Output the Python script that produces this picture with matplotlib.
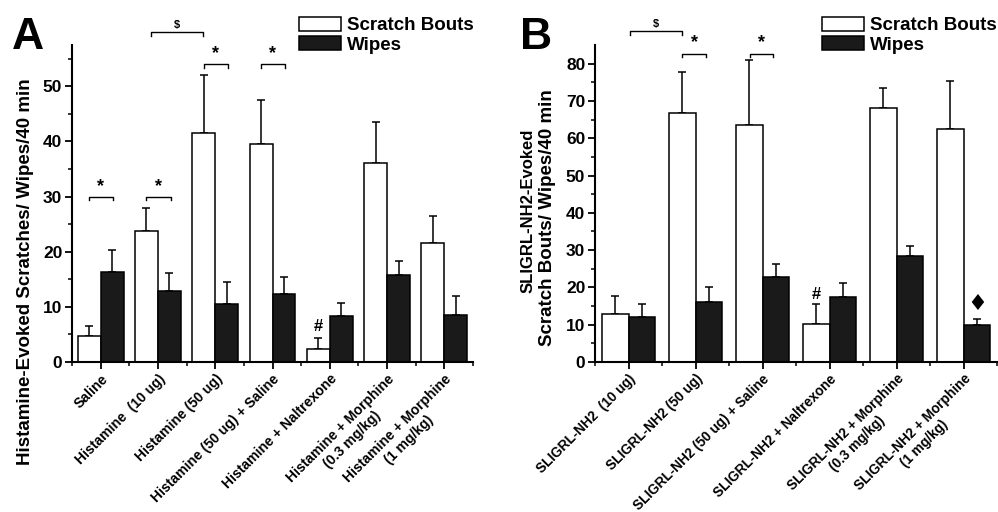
import numpy as np
import matplotlib
matplotlib.use("Agg")
import matplotlib.pyplot as plt

plt.rcParams['font.family'] = ['Liberation Sans', 'DejaVu Sans']
plt.rcParams['font.weight'] = 'bold'

# データ (パネルA: ヒスタミン)
labels_a = ["Saline", "Histamine  (10 ug)", "Histamine (50 ug)",
            "Histamine (50 ug) + Saline", "Histamine + Naltrexone",
            "Histamine + Morphine\n(0.3 mg/kg)", "Histamine + Morphine\n(1 mg/kg)"]
scratch_a = [4.7, 23.8, 41.5, 39.5, 2.4, 36.1, 21.6]
scratch_a_err = [1.8, 4.1, 10.5, 8.0, 2.0, 7.4, 4.9]
wipes_a = [16.3, 12.8, 10.5, 12.3, 8.3, 15.7, 8.6]
wipes_a_err = [4.0, 3.3, 4.0, 3.1, 2.4, 2.7, 3.3]

# データ (パネルB: SLIGRL-NH2)
labels_b = ["SLIGRL-NH2  (10 ug)", "SLIGRL-NH2 (50 ug)",
            "SLIGRL-NH2 (50 ug) + Saline", "SLIGRL-NH2 + Naltrexone",
            "SLIGRL-NH2 + Morphine\n(0.3 mg/kg)", "SLIGRL-NH2 + Morphine\n(1 mg/kg)"]
scratch_b = [13.0, 66.9, 63.5, 10.2, 68.2, 62.4]
scratch_b_err = [4.7, 10.8, 17.5, 5.4, 5.2, 12.9]
wipes_b = [12.1, 16.2, 22.9, 17.5, 28.3, 9.9]
wipes_b_err = [3.5, 3.8, 3.3, 3.7, 2.8, 1.6]

W = 0.4

fig = plt.figure(figsize=(9.98, 5.12), dpi=100)


def draw_panel(ax, labels, scratch, s_err, wipes, w_err, ymax, ystep, xfs):
    n = len(labels)
    x = np.arange(n)
    ax.bar(x - W / 2, scratch, W, color='white', edgecolor='black', linewidth=1.1,
           label='Scratch Bouts', zorder=2)
    ax.bar(x + W / 2, wipes, W, color='#1a1a1a', edgecolor='black', linewidth=1.1,
           label='Wipes', zorder=2)
    ax.errorbar(x - W / 2, scratch, yerr=[np.zeros(n), s_err], fmt='none',
                ecolor='black', elinewidth=1.1, capsize=3, capthick=1.1, zorder=1)
    ax.errorbar(x + W / 2, wipes, yerr=[np.zeros(n), w_err], fmt='none',
                ecolor='black', elinewidth=1.1, capsize=3, capthick=1.1, zorder=1)
    ax.set_xlim(-0.5, n - 0.5)
    ax.set_ylim(0, ymax)
    ax.set_yticks(np.arange(0, ymax, ystep))
    ax.set_yticks(np.arange(0, ymax, ystep / 2), minor=True)
    ax.set_xticks(x)
    ax.set_xticks(np.arange(n + 1) - 0.5, minor=True)
    ax.set_xticklabels(labels, rotation=45, ha='right', rotation_mode='anchor',
                       fontsize=xfs, fontweight='bold', multialignment='center')
    for lab in ax.get_yticklabels():
        lab.set_fontsize(12.5)
        lab.set_fontweight('bold')
    ax.tick_params(axis='both', which='major', direction='out', length=5, width=1.3, pad=2)
    ax.tick_params(axis='both', which='minor', direction='out', length=3, width=1.1)
    ax.spines['top'].set_visible(False)
    ax.spines['right'].set_visible(False)
    ax.spines['left'].set_linewidth(1.5)
    ax.spines['bottom'].set_linewidth(1.5)


def bracket(ax, x0, x1, y, text, dy, fs):
    ax.plot([x0, x0, x1, x1], [y - dy, y, y, y - dy], color='black', lw=1.0,
            clip_on=False)
    ax.text((x0 + x1) / 2, y + dy * 0.6, text, ha='center', va='bottom',
            fontsize=fs, fontweight='bold', clip_on=False)


# パネルA
ax1 = fig.add_axes([72 / 998, 1 - 362 / 512, 401 / 998, 317 / 512])
draw_panel(ax1, labels_a, scratch_a, scratch_a_err, wipes_a, wipes_a_err, 57.5, 10, 10.1)
bracket(ax1, -0.2, 0.21, 30, '*', 0.6, 13)
bracket(ax1, 0.8, 1.22, 30, '*', 0.6, 13)
bracket(ax1, 1.8, 2.22, 54, '*', 0.6, 13)
bracket(ax1, 2.8, 3.21, 54, '*', 0.6, 13)
bracket(ax1, 0.88, 1.78, 59.8, '$', 0.6, 8)
ax1.text(3.8, 5.0, '#', ha='center', va='bottom', fontsize=12, fontweight='bold')
ax1.set_ylabel("Histamine-Evoked Scratches/ Wipes/40 min", fontsize=13.5,
               fontweight='bold')
ax1.yaxis.set_label_coords(-38 / 401, (362 - 272) / 317)
ax1.legend(loc='upper left', bbox_to_anchor=(299 / 998, 1 - 17 / 512),
           bbox_transform=fig.transFigure, frameon=False,
           handlelength=2.25, handleheight=0.75, labelspacing=0.1,
           handletextpad=0.3, borderpad=0, borderaxespad=0,
           prop={'weight': 'bold', 'size': 13.5})
fig.text(12 / 998, 1 - 49 / 512, 'A', fontsize=32, fontweight='bold', va='baseline')

# パネルB
ax2 = fig.add_axes([595 / 998, 1 - 362 / 512, 402 / 998, 317 / 512])
draw_panel(ax2, labels_b, scratch_b, scratch_b_err, wipes_b, wipes_b_err, 85, 10, 9.8)
bracket(ax2, 0.8, 1.16, 82.7, '*', 0.9, 13)
bracket(ax2, 1.81, 2.16, 82.7, '*', 0.9, 13)
bracket(ax2, 0.02, 0.8, 88.7, '$', 0.9, 8)
ax2.text(2.8, 16.0, '#', ha='center', va='bottom', fontsize=12, fontweight='bold')
ax2.text(5.2, 13.0, '\u2666', ha='center', va='bottom', fontsize=16,
         family=['DejaVu Sans'])
# y軸ラベル (2行、1行目は少し詰まっている)
fig.text(528 / 998, 1 - 211 / 512, "SLIGRL-NH2-Evoked", rotation=90,
         ha='center', va='center', fontsize=12, fontweight='bold')
fig.text(547 / 998, 1 - 218 / 512, "Scratch Bouts/ Wipes/40 min", rotation=90,
         ha='center', va='center', fontsize=13.5, fontweight='bold')
ax2.legend(loc='upper left', bbox_to_anchor=(822 / 998, 1 - 17 / 512),
           bbox_transform=fig.transFigure, frameon=False,
           handlelength=2.25, handleheight=0.75, labelspacing=0.1,
           handletextpad=0.3, borderpad=0, borderaxespad=0,
           prop={'weight': 'bold', 'size': 13.5})
fig.text(520 / 998, 1 - 49 / 512, 'B', fontsize=32, fontweight='bold', va='baseline')

fig.savefig("out.png", dpi=100)
